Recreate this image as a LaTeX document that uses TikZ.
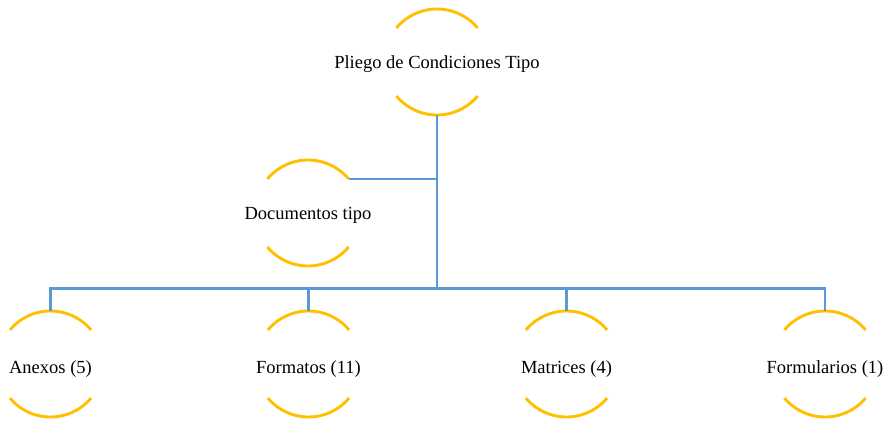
\documentclass[tikz,border=0pt]{standalone}
\usepackage{fontspec}
\setmainfont{Liberation Serif}
\definecolor{arcyellow}{HTML}{FFC000}
\definecolor{connblue}{HTML}{5B9BD5}
\begin{document}
\begin{tikzpicture}[x=1pt,y=1pt,
  ring/.style 2 args={circle,minimum size=106pt,inner sep=0pt,outer sep=0pt,draw=none,
    label={[font=\fontsize{18.5}{22}\selectfont,inner sep=0pt,yshift=#2]center:#1}},
  arcst/.style={draw=arcyellow,line width=2.9pt},
  conn/.style={draw=connblue,line width=2.8pt}]
\useasboundingbox (0,0) rectangle (886,424);
% nodes
\node[ring={Pliego de Condiciones Tipo}{-2.5pt}] (p) at (437,362) {};
\node[ring={Documentos tipo}{-2.5pt}] (d) at (308,211) {};
\node[ring={Anexos (5)}{-5pt}] (a) at (50.5,60) {};
\node[ring={Formatos (11)}{-5pt}] (b) at (308.5,60) {};
\node[ring={Matrices (4)}{-5pt}] (c) at (566.5,60) {};
\node[ring={Formularios (1)}{-5pt}] (f) at (825,60) {};
\coordinate (bus) at (437,135.5);
% arcs
\foreach \n in {p,d,a,b,c,f}{
  \draw[arcst] (\n.40) arc[start angle=40,end angle=140,radius=53pt];
  \draw[arcst] (\n.220) arc[start angle=220,end angle=320,radius=53pt];
}
% connectors
\draw[conn] (p.south) -- (bus);
\draw[conn] (d.40) -- (d.40 -| p.south);
\draw[conn] (a.north) |- (bus) -| (f.north);
\draw[conn] (b.north) -- (b.north |- bus);
\draw[conn] (c.north) -- (c.north |- bus);
\end{tikzpicture}
\end{document}
